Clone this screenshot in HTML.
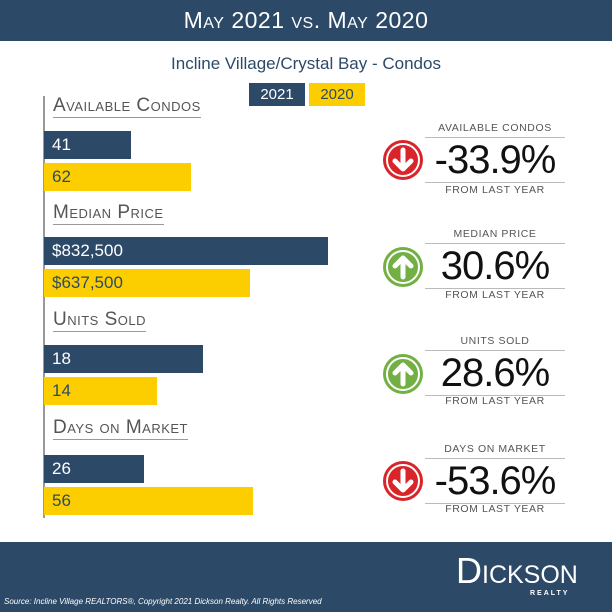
<!DOCTYPE html>
<html><head><style>
body{margin:0;width:612px;height:612px;position:relative;background:#fff;font-family:"Liberation Sans",sans-serif;overflow:hidden}
.a{position:absolute}
.hdr{left:0;top:0;width:612px;height:41px;background:#2c4a67;color:#fff;font-size:23px;text-align:center;line-height:41px;font-variant:small-caps;letter-spacing:0.5px}
.ft{left:0;top:542px;width:612px;height:70px;background:#2c4a67}
.bar{left:44px;height:28px;color:#fff;font-size:17px;line-height:28px;padding-left:8px;box-sizing:border-box}
.b1{background:#2c4a67;color:#fff}.b2{background:#fcce00;color:#2c4a67}
.lab{left:53px;font-size:19px;color:#555;font-variant:small-caps;letter-spacing:0.5px;border-bottom:1.5px solid #999;padding-bottom:1px;line-height:20px}
.cat{left:425px;width:140px;text-align:center;font-size:10.5px;color:#555;letter-spacing:0.6px}
.num{left:425px;width:140px;text-align:center;font-size:40px;color:#111;border-top:1px solid #bbb;border-bottom:1px solid #bbb;line-height:44px;letter-spacing:-1px}
.ic{width:40px;height:40px;border-radius:50%}
</style></head><body>
<div class="a hdr">May 2021 vs. May 2020</div>
<div class="a" style="left:0;top:54px;width:612px;text-align:center;font-size:17px;color:#2c4a67">Incline Village/Crystal Bay - Condos</div>
<div class="a" style="left:249px;top:83px;width:56px;height:23px;background:#2c4a67;color:#fff;font-size:15px;text-align:center;line-height:23px">2021</div>
<div class="a" style="left:309px;top:83px;width:56px;height:23px;background:#fcce00;color:#2c4a67;font-size:15px;text-align:center;line-height:23px">2020</div>
<div class="a" style="left:43px;top:96px;width:2px;height:422px;background:#999"></div>

<div class="a lab" style="top:96px">Available Condos</div>
<div class="a bar b1" style="top:131px;width:87px">41</div>
<div class="a bar b2" style="top:163px;width:147px">62</div>
<div class="a lab" style="top:203px">Median Price</div>
<div class="a bar b1" style="top:237px;width:284px">$832,500</div>
<div class="a bar b2" style="top:269px;width:206px">$637,500</div>
<div class="a lab" style="top:310px">Units Sold</div>
<div class="a bar b1" style="top:345px;width:159px">18</div>
<div class="a bar b2" style="top:377px;width:113px">14</div>
<div class="a lab" style="top:418px">Days on Market</div>
<div class="a bar b1" style="top:455px;width:100px">26</div>
<div class="a bar b2" style="top:487px;width:209px">56</div>

<svg class="a" style="left:0;top:0" width="612" height="612">
<defs>
<g id="dn"><circle r="20" fill="#d9252a"/><circle r="16" fill="none" stroke="#fff" stroke-width="2"/><path d="M0,-10V8M-8,1L0,9L8,1" stroke="#fff" stroke-width="5" fill="none" stroke-linecap="round" stroke-linejoin="round"/></g>
<g id="up"><circle r="20" fill="#72b043"/><circle r="16" fill="none" stroke="#fff" stroke-width="2"/><path d="M0,10V-8M-8,-1L0,-9L8,-1" stroke="#fff" stroke-width="5" fill="none" stroke-linecap="round" stroke-linejoin="round"/></g>
</defs>
<use href="#dn" x="403" y="160"/><use href="#up" x="403" y="267"/>
<use href="#up" x="403" y="374"/><use href="#dn" x="403" y="481"/>
</svg>

<div class="a cat" style="top:122px">AVAILABLE CONDOS</div>
<div class="a num" style="top:137px">-33.9%</div>
<div class="a cat" style="top:184px">FROM LAST YEAR</div>
<div class="a cat" style="top:228px">MEDIAN PRICE</div>
<div class="a num" style="top:243px">30.6%</div>
<div class="a cat" style="top:289px">FROM LAST YEAR</div>
<div class="a cat" style="top:335px">UNITS SOLD</div>
<div class="a num" style="top:350px">28.6%</div>
<div class="a cat" style="top:395px">FROM LAST YEAR</div>
<div class="a cat" style="top:443px">DAYS ON MARKET</div>
<div class="a num" style="top:458px">-53.6%</div>
<div class="a cat" style="top:503px">FROM LAST YEAR</div>

<div class="a ft"></div>
<div class="a" style="left:456px;top:550px;color:#fff;font-size:36px;font-variant:small-caps;letter-spacing:0px">Dickson</div>
<div class="a" style="left:530px;top:590px;color:#fff;font-size:7px;letter-spacing:2px;font-weight:bold">REALTY</div>
<div class="a" style="left:4px;top:597px;color:#fff;font-size:8px;font-style:italic">Source: Incline Village REALTORS®, Copyright 2021 Dickson Realty. All Rights Reserved</div>
</body></html>
